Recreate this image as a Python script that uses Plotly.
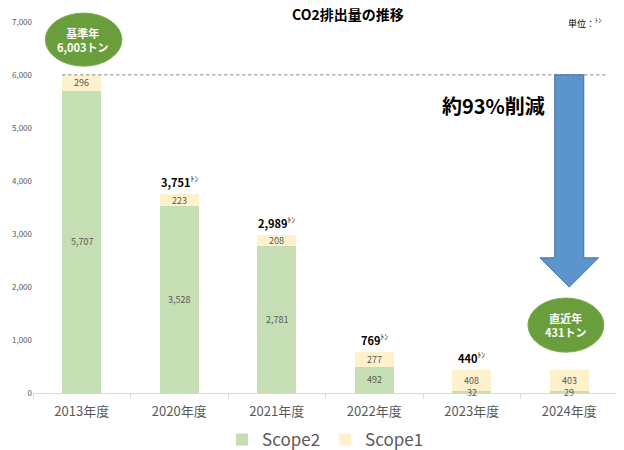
import plotly.graph_objects as go

years = ['2013年度', '2020年度', '2021年度', '2022年度', '2023年度', '2024年度']
scope2 = [5707, 3528, 2781, 492, 32, 29]
scope1 = [296, 223, 208, 277, 408, 403]
show_total = [False, True, True, True, True, False]
base_total = 6003
latest_total = 431

FONT = 'Noto Sans CJK JP'
GRAY = '#595959'

fig = go.Figure()
fig.add_trace(go.Bar(
    x=years, y=scope2, name='Scope2',
    marker=dict(color='#C5DEB3', line=dict(width=0)),
))
fig.add_trace(go.Bar(
    x=years, y=scope1, name='Scope1',
    marker=dict(color='#FFF1CB', line=dict(width=0)),
))

# segment labels, centered in each piece
for i, (a, b) in enumerate(zip(scope2, scope1)):
    fig.add_annotation(x=i, y=a / 2, xref='x', yref='y', text=f'{a:,}',
                       showarrow=False, font=dict(size=9, color=GRAY))
    fig.add_annotation(x=i, y=a + b / 2, xref='x', yref='y', text=f'{b:,}',
                       showarrow=False, font=dict(size=9, color=GRAY))
    if show_total[i]:
        fig.add_annotation(
            x=i, y=a + b, xref='x', yref='y', yanchor='bottom', yshift=2,
            text=f'<b>{a + b:,}</b><sup>ﾄﾝ</sup>', showarrow=False,
            font=dict(size=11, color='black'),
        )

# base year dotted line
fig.add_shape(type='line', xref='x', yref='y', x0=-0.2, x1=5.37,
              y0=base_total, y1=base_total,
              line=dict(color='#7F7F7F', width=1, dash='dot'))

# reduction arrow
top = base_total
fig.add_shape(
    type='path', xref='x', yref='y',
    path=(f'M {5 - 0.149},{top} L {5 + 0.149},{top} L {5 + 0.149},2550 '
          f'L {5 + 0.30},2550 L 5,2000 L {5 - 0.30},2550 L {5 - 0.149},2550 Z'),
    fillcolor='#5B95CC', line=dict(color='#41719C', width=1),
)
fig.add_annotation(
    x=4.77, y=5420, xref='x', yref='y', xanchor='right',
    text='<b>約93%削減</b>', showarrow=False,
    font=dict(size=20, color='black'),
)

# ellipses
fig.add_shape(type='circle', xref='paper', yref='paper',
              x0=0.021, x1=0.152, y0=0.881, y1=1.024,
              fillcolor='#6A9E3D', line=dict(color='#7DAF52', width=1))
fig.add_annotation(
    x=0.086, y=0.952, xref='paper', yref='paper', xanchor='center',
    yanchor='middle', text=f'<b>基準年<br>{base_total:,}トン</b>',
    showarrow=False, font=dict(size=11, color='white'),
)
fig.add_shape(type='circle', xref='paper', yref='paper',
              x0=0.846, x1=0.976, y0=0.110, y1=0.256,
              fillcolor='#6A9E3D', line=dict(color='#7DAF52', width=1))
fig.add_annotation(
    x=0.911, y=0.183, xref='paper', yref='paper', xanchor='center',
    yanchor='middle', text=f'<b>直近年<br>{latest_total}トン</b>',
    showarrow=False, font=dict(size=11, color='white'),
)

# title and unit
fig.add_annotation(
    x=0.538, y=1.022, xref='paper', yref='paper', xanchor='center',
    yanchor='middle', text='<b>CO2排出量の推移</b>', showarrow=False,
    font=dict(size=14, color='black'),
)
fig.add_annotation(
    x=0.975, y=0.997, xref='paper', yref='paper', xanchor='right',
    yanchor='middle', text='単位：<sup>ﾄﾝ</sup>', showarrow=False,
    font=dict(size=9, color='black'),
)

# page body adds 8px, so the figure is 8px smaller
fig.update_layout(
    width=616, height=442,
    margin=dict(l=25, r=6, t=14, b=57, autoexpand=False),
    barmode='stack', bargap=0.605,
    plot_bgcolor='white', paper_bgcolor='white',
    font=dict(family=FONT, color=GRAY),
    showlegend=True,
    legend=dict(orientation='h', traceorder='normal', x=0.5, xanchor='center',
                yref='container', y=0.0226, yanchor='middle',
                font=dict(size=17, color=GRAY)),
)
fig.update_xaxes(
    type='category', showline=True, linecolor='#D9D9D9', automargin=False,
    ticks='outside', tickson='boundaries', ticklen=5, tickcolor='#D9D9D9',
    tickfont=dict(size=13, color=GRAY), showgrid=False, ticklabelstandoff=6,
)
fig.update_yaxes(
    range=[0, 7000], dtick=1000, tickformat=',', showgrid=False,
    zeroline=False, showline=False, tickfont=dict(size=8, color=GRAY),
    ticklabelstandoff=0, automargin=False,
)

fig.write_html('out.html')
